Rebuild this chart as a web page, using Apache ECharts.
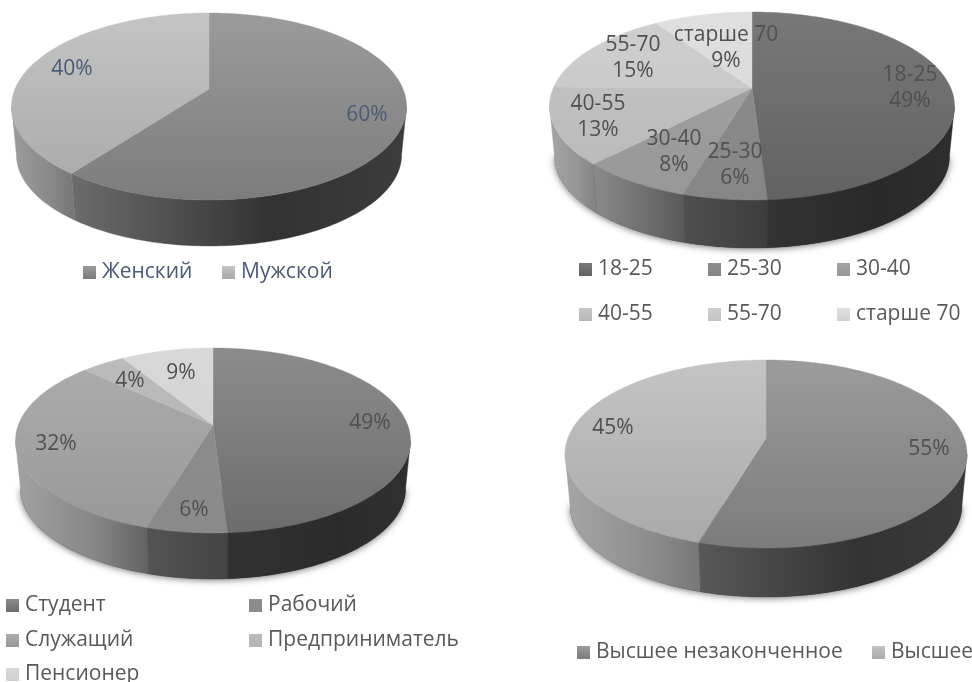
<!DOCTYPE html>
<html><head><meta charset="utf-8">
<style>html,body{margin:0;padding:0;background:#fff}#c{width:972px;height:682px}</style>
<script src="https://cdn.jsdelivr.net/npm/echarts@6/dist/echarts.min.js"></script>
</head><body><div id="c"></div>
<script>
// ---- data ----
const genderCategories = ['Женский','Мужской'];
const genderValues = [60.3,39.7];
const ageCategories = ['18-25','25-30','30-40','40-55','55-70','старше 70'];
const ageValues = [49,5.55,7.51,13.1,15.4,9.44];
const jobCategories = ['Студент','Рабочий','Служащий','Предприниматель','Пенсионер'];
const jobValues = [49,5.6,32.3,4.2,8.9];
const eduCategories = ['Высшее незаконченное','Высшее'];
const eduValues = [54.6,45.4];

// ---- layout & styles ----
const FONT = '"Open Sans", sans-serif';
const pies = [
 {cats:genderCategories, vals:genderValues, apex:[209,89], top:13, bot:200, left:12, right:407, deep:246, shadow:0,
  labelFill:'#4b5b75', withCat:false,
  labelAt:[[367,115],[72,69]],
  tops:[['#9b9b9b','#7c7c7c'],['#c4c4c4','#a8a8a8']],
  walls:[['#6c6c6c','#323232','#3c3c3c'],['#9c9c9c','#8a8a8a','#757575']],
  legend:[[83,271],[222,271]], legendFill:'#4b5b75'},
 {cats:ageCategories, vals:ageValues, apex:[752,88], top:12, bot:200, left:551, right:956, deep:248, shadow:1,
  labelFill:'#505050', withCat:true,
  labelAt:[[910,88],[735,165],[674,152],[598,117],[633,58],[726,48]],
  tops:[['#787878','#626262'],['#8d8d8d','#868686'],['#a4a4a4','#979797'],['#c6c6c6','#b8b8b8'],['#cfcfcf','#c4c4c4'],['#e0e0e0','#d2d2d2']],
  walls:[['#333333','#292929','#2e2e2e'],['#4f4f4f','#444444','#3c3c3c'],['#8a8a8a','#6e6e6e','#585858'],['#a4a4a4','#969696','#808080'],['#a4a4a4','#a4a4a4','#a4a4a4'],['#a4a4a4','#a4a4a4','#a4a4a4']],
  legend:[[579,268],[708,268],[837,268],[579,313],[708,313],[837,313]], legendFill:'#595959'},
 {cats:jobCategories, vals:jobValues, apex:[213,425], top:348, bot:533, left:17, right:412, deep:579, shadow:1,
  labelFill:'#505050', withCat:false,
  labelAt:[[370,423],[194,510],[56,444],[130,381],[181,373]],
  tops:[['#8c8c8c','#6c6c6c'],['#8e8e8e','#8a8a8a'],['#adadad','#989898'],['#bbbbbb','#b4b4b4'],['#d8d8d8','#d0d0d0']],
  walls:[['#323232','#2b2b2b','#303030'],['#545454','#4a4a4a','#444444'],['#a2a2a2','#868686','#626262'],['#a2a2a2','#a2a2a2','#a2a2a2'],['#a2a2a2','#a2a2a2','#a2a2a2']],
  legend:[[6,604],[249,604],[6,639],[249,639],[6,673]], legendFill:'#595959'},
 {cats:eduCategories, vals:eduValues, apex:[766,438], top:360, bot:548, left:565, right:967, deep:597, shadow:1,
  labelFill:'#505050', withCat:false,
  labelAt:[[929,449],[613,428]],
  tops:[['#9b9b9b','#7c7c7c'],['#c4c4c4','#a9a9a9']],
  walls:[['#585858','#333333','#3a3a3a'],['#a6a6a6','#8e8e8e','#777777']],
  legend:[[577,651],[872,651]], legendFill:'#595959'}
];
const LEGEND_ICON = 13, LOWER_SCALE = 0.975, FONT_SIZE = 21;
const vgrad = (a,b,y0,y1) => new echarts.graphic.LinearGradient(0,y0,0,y1,[{offset:0,color:a},{offset:1,color:b}],true);
const hgrad = c => new echarts.graphic.LinearGradient(0,0,1,0,[{offset:0,color:c[0]},{offset:.6,color:c[1]},{offset:1,color:c[2]}]);

// perspective projection of a unit disc, calibrated by each pie's outline
function projector(P){
  const up = P.apex[1]-P.top, down = P.bot-P.apex[1];
  const p = (down-up)/(down+up), s = down*(1-p);
  const rx = (P.right-P.left)/2, kx = rx*Math.sqrt(1-p*p);
  const off = P.deep-(P.apex[1]+LOWER_SCALE*down);
  const fn = (a,lower) => {
    const u=Math.sin(a), w=-Math.cos(a), d=1-p*w, f=lower?LOWER_SCALE:1;
    return [ P.apex[0] + f*kx*u/d, P.apex[1] + (lower?off:0) + f*s*w/d ];
  };
  fn.front=[Math.acos(-p), 2*Math.PI-Math.acos(-p)];
  return fn;
}
function arc(fn,a0,a1,lower){
  const n=Math.max(2,Math.ceil(Math.abs(a1-a0)/0.02)), o=[];
  for(let i=0;i<=n;i++) o.push(fn(a0+(a1-a0)*i/n,lower));
  return o;
}
const TAU=Math.PI*2;
const series=[], legends=[];
pies.forEach(P=>{
  const fn=projector(P), total=P.vals.reduce((a,b)=>a+b,0);
  let acc=0;
  P.cats.forEach((name,i)=>{
    const start=acc; acc+=P.vals[i];
    series.push({
      type:'custom', name, coordinateSystem:'none', silent:true, animation:false,
      itemStyle:{color:P.tops[i][1]},
      data:[[start,P.vals[i]]],
      renderItem:(params,api)=>{
        const s0=api.value(0), v=api.value(1);
        const a0=s0/total*TAU, a1=(s0+v)/total*TAU;
        const children=[];
        if(i===0 && P.shadow){
          children.push({type:'polygon',shape:{points:arc(fn,fn.front[0],fn.front[1],true)},
            style:{fill:'#3a3a3a',shadowBlur:7,shadowColor:'rgba(0,0,0,0.55)',shadowOffsetY:1}});
        }
        const b0=Math.max(a0,fn.front[0]), b1=Math.min(a1,fn.front[1]);
        if(b1>b0){
          const pts=arc(fn,b0,b1,false).concat(arc(fn,b1,b0,true));
          const g=hgrad(P.walls[i]);
          children.push({type:'polygon',shape:{points:pts},style:{fill:g,stroke:g,lineWidth:0.4}});
        }
        const g2=vgrad(P.tops[i][0],P.tops[i][1],P.top,P.bot);
        children.push({type:'polygon',shape:{points:[P.apex].concat(arc(fn,a0,a1,false))},
          style:{fill:g2,stroke:g2,lineWidth:0.4}});
        const pct=Math.round(v/total*100)+'%';
        children.push({type:'text',z2:100,style:{
          x:P.labelAt[i][0],y:P.labelAt[i][1],text:P.withCat?name+'\n'+pct:pct,
          textAlign:'center',textVerticalAlign:'middle',fill:P.labelFill,
          fontFamily:FONT,fontSize:FONT_SIZE,lineHeight:26}});
        return {type:'group',children};
      }
    });
    legends.push({
      show:true, left:P.legend[i][0], top:P.legend[i][1]-9, padding:0,
      orient:'horizontal', selectedMode:false, icon:'rect',
      itemWidth:LEGEND_ICON, itemHeight:LEGEND_ICON, itemGap:0,
      data:[{name,itemStyle:{color:new echarts.graphic.LinearGradient(0,0,0,1,[{offset:0,color:P.tops[i][0]},{offset:1,color:P.tops[i][1]}])}}],
      textStyle:{color:P.legendFill,fontFamily:FONT,fontSize:FONT_SIZE,padding:[0,0,0,1]}
    });
  });
});
const chart=echarts.init(document.getElementById('c'),null,{renderer:'canvas'});
chart.setOption({animation:false,backgroundColor:'#fff',legend:legends,series});
</script></body></html>
